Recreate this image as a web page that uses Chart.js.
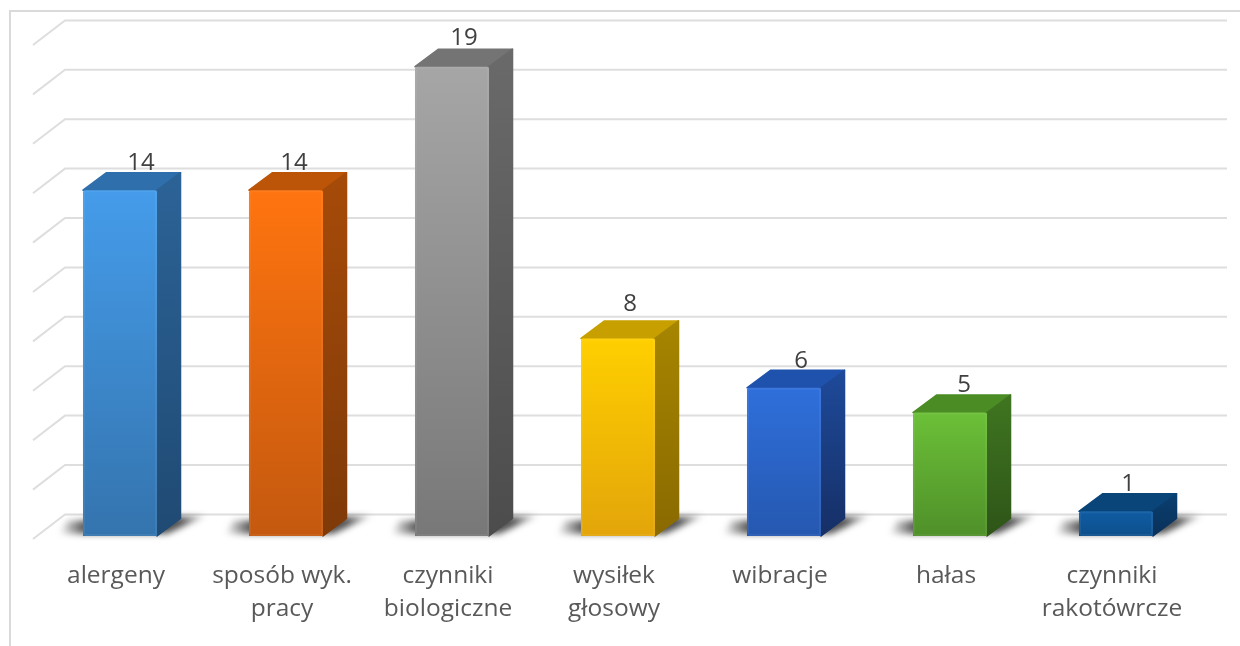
<!DOCTYPE html>
<html>
<head>
<meta charset="utf-8">
<script src="https://cdn.jsdelivr.net/npm/chart.js@4"></script>
<style>
    html, body { margin: 0; padding: 0; background: #fff; overflow: hidden; }
    canvas { display: block; }
</style>
</head>
<body>
<canvas id="chart" width="1240" height="646"></canvas>
<script>
const categories = [
    'alergeny',
    ['sposób wyk.', 'pracy'],
    ['czynniki', 'biologiczne'],
    ['wysiłek', 'głosowy'],
    'wibracje',
    'hałas',
    ['czynniki', 'rakotówrcze']
];
const values = [14, 14, 19, 8, 6, 5, 1];
const axisMax = 20;
const axisStep = 2;

// face colours for each bar
const frontTop = ['#459CEA', '#FF740F', '#A6A6A6', '#FFCF00', '#2F6FDB', '#6CC038', '#0F5CA3'];
const frontBottom = ['#3474AE', '#C4590F', '#787878', '#E3A50A', '#2558B0', '#4F9029', '#0D4F8C'];
const topFace = ['#2F6FAB', '#BC5508', '#747474', '#C7A000', '#1F52AC', '#4B8C24', '#094579'];
const sideTop = ['#2C6397', '#A64B09', '#6A6A6A', '#A68500', '#1E4A9A', '#3F7520', '#0A3F70'];
const sideBottom = ['#1F4A73', '#7F3A08', '#4C4C4C', '#8A6A00', '#162F66', '#2E5518', '#0A3059'];

// label nudges, the original labels were not all placed the same way
const labelDx = [21, 8, 12, 12, 17, 14, 12];
const labelDy = [-27, -27, -29, -34, -27, -27, -27];

const depthX = 23.5, depthY = 17.5;    // bar depth
const wallX = 32, wallY = 24.6;        // floor depth of the grid
const gridColor = '#DEDEDE';

const ctx = document.getElementById('chart').getContext('2d');

function frontGradient(context) {
    const area = context.chart.chartArea;
    if (!area) return frontTop[context.dataIndex];
    const base = context.chart.scales.y.getPixelForValue(0);
    const top = context.chart.scales.y.getPixelForValue(values[context.dataIndex]);
    const g = context.chart.ctx.createLinearGradient(0, top, 0, base);
    g.addColorStop(0, frontTop[context.dataIndex]);
    g.addColorStop(1, frontBottom[context.dataIndex]);
    return g;
}

const backdrop = {
    id: 'backdrop',
    beforeDatasetsDraw(chart) {
        const c = chart.ctx, y = chart.scales.y, area = chart.chartArea;
        c.save();

        // outer frame
        c.strokeStyle = '#DADADA';
        c.lineWidth = 2;
        c.beginPath();
        c.moveTo(10, 646);
        c.lineTo(10, 11);
        c.lineTo(1240, 11);
        c.stroke();

        // back wall lines and the short floor diagonals
        c.strokeStyle = gridColor;
        c.lineWidth = 2;
        y.ticks.forEach(t => {
            const py = y.getPixelForValue(t.value);
            c.beginPath();
            c.moveTo(area.left - 4, py + 3);
            c.lineTo(area.left + wallX - 4, py + 3 - wallY);
            c.lineTo(area.right + 28, py + 3 - wallY);
            c.stroke();
        });

        chart.getDatasetMeta(0).data.forEach((bar, i) => {
            const left = bar.x - bar.width / 2, right = bar.x + bar.width / 2;
            const top = bar.y, base = bar.base;

            // soft floor shadow, fading away from the bar on both sides
            const x0 = left - 24, x1 = right + depthX + 30, span = x1 - x0;
            const s = c.createLinearGradient(x0, 0, x1, 0);
            s.addColorStop(0, 'rgba(40,40,40,0)');
            s.addColorStop(24 / span, 'rgba(40,40,40,0.75)');
            s.addColorStop(1 - 30 / span, 'rgba(40,40,40,0.8)');
            s.addColorStop(1, 'rgba(40,40,40,0)');
            c.save();
            c.filter = 'blur(3px)';
            c.fillStyle = s;
            c.beginPath();
            c.moveTo(x0, base - 2);
            c.lineTo(x0 + 8, base - 15);
            c.lineTo(x1 - 4, base - depthY - 3);
            c.lineTo(right + 10, base - 2);
            c.closePath();
            c.fill();
            c.restore();

            c.lineJoin = 'round';
            c.lineWidth = 1.5;

            // top face
            c.fillStyle = topFace[i];
            c.strokeStyle = topFace[i];
            c.beginPath();
            c.moveTo(left, top);
            c.lineTo(left + depthX, top - depthY);
            c.lineTo(right + depthX, top - depthY);
            c.lineTo(right, top);
            c.closePath();
            c.fill();
            c.stroke();

            // side face
            const g = c.createLinearGradient(0, top - depthY, 0, base);
            g.addColorStop(0, sideTop[i]);
            g.addColorStop(1, sideBottom[i]);
            c.fillStyle = g;
            c.strokeStyle = g;
            c.beginPath();
            c.moveTo(right, top);
            c.lineTo(right + depthX, top - depthY);
            c.lineTo(right + depthX, base - depthY);
            c.lineTo(right, base);
            c.closePath();
            c.fill();
            c.stroke();
        });
        c.restore();
    },
    afterDatasetsDraw(chart) {
        const c = chart.ctx;
        c.save();
        chart.getDatasetMeta(0).data.forEach(bar => {
            // faint bevel round the front face
            c.strokeStyle = 'rgba(255,255,255,0.06)';
            c.lineWidth = 2;
            c.beginPath();
            c.roundRect(bar.x - bar.width / 2 + 1, bar.y + 1, bar.width - 2, bar.base - bar.y - 2, 2);
            c.stroke();
        });
        c.font = '24px "Open Sans"';
        c.fillStyle = '#404040';
        c.textAlign = 'center';
        c.textBaseline = 'middle';
        chart.getDatasetMeta(0).data.forEach((bar, i) => {
            c.fillText(String(values[i]), bar.x + labelDx[i], bar.y + labelDy[i]);
        });
        c.restore();
    }
};

new Chart(ctx, {
    type: 'bar',
    data: {
        labels: categories,
        datasets: [{
            data: values,
            backgroundColor: frontGradient,
            borderRadius: 2,
            barPercentage: 0.446,
            categoryPercentage: 1
        }]
    },
    options: {
        responsive: false,
        animation: false,
        devicePixelRatio: 1,
        layout: { padding: { left: 37, right: 41, top: 42, bottom: 20 } },
        plugins: { legend: { display: false }, tooltip: { enabled: false } },
        scales: {
            x: {
                grid: { display: false },
                border: { display: false },
                afterFit(scale) { scale.height = 90; },
                ticks: {
                    color: '#595959',
                    font: { family: 'Open Sans', size: 24.5, lineHeight: 1.347 },
                    maxRotation: 0,
                    autoSkip: false,
                    padding: 16,
                    labelOffset: -4
                }
            },
            y: {
                display: false,
                min: 0,
                max: axisMax,
                ticks: { stepSize: axisStep }
            }
        }
    },
    plugins: [backdrop]
});
</script>
</body>
</html>
